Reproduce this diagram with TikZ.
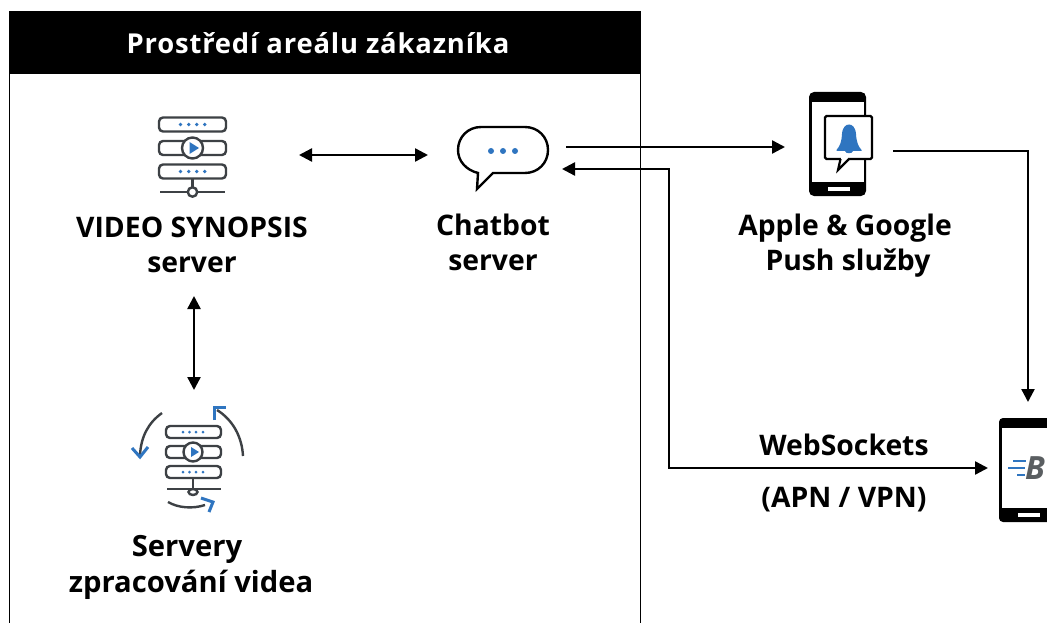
\documentclass[tikz,border=0pt]{standalone}
\usepackage{fontspec}
\setmainfont{Open Sans}
\newfontfamily\hdrfont{Open Sans}[LetterSpace=3]
\usetikzlibrary{arrows.meta}
\definecolor{iconblue}{HTML}{2F75C0}
\definecolor{icongray}{HTML}{3D4145}
\tikzset{
  x=1pt,y=-1pt,
  lbl/.style={align=center,inner sep=0pt,font=\fontsize{28.3}{35}\selectfont\bfseries},
  spot/.style={inner sep=0pt,outer sep=0pt,draw=none},
  link/.style={line width=2.4pt,-{Triangle[length=13pt,width=13pt]}},
  linkb/.style={line width=2.4pt,{Triangle[length=13pt,width=13pt]}-{Triangle[length=13pt,width=13pt]}},
  ic/.style={draw=icongray,line width=2.4pt,fill=white},
  ibl/.style={draw=iconblue,line width=3pt},
  dot/.style={fill=iconblue,draw=none}
}
\begin{document}
\begin{tikzpicture}
\useasboundingbox (0,0) rectangle (1047,623);
\fill[white] (0,0) rectangle (1047,623);
% area frame
\draw[line width=1.3pt] (9.5,623) -- (9.5,12) -- (640.5,12) -- (640.5,623);
\fill[black] (9,12) rectangle (641,74);
\node[inner sep=0pt,text=white,font=\hdrfont\fontsize{27.4}{32}\selectfont\bfseries] (hdr) at (318,43) {Prostředí areálu zákazníka};

% server icon
\node[spot,minimum width=212pt,minimum height=80pt] (srv) at (193,155) {};
\draw[ic,rounded corners=4pt] (159,117.5) rectangle (226,131.5);
\draw[ic,rounded corners=4pt] (159,141) rectangle (226,155);
\draw[ic,rounded corners=4pt] (159,164.5) rectangle (226,178.5);
\foreach \yy in {124.5,171.5} \foreach \xx in {180.5,188.7,196.7,204.7} \fill[dot] (\xx,\yy) circle (1.9pt);
\draw[ic] (192.5,148) circle (10.5pt);
\fill[iconblue] (189.5,142) -- (199,148) -- (189.5,154) -- cycle;
\draw[ic,fill=none] (192.5,179) -- (192.5,187) (160,192) -- (225,192);
\draw[ic] (192.5,192) circle (4.7pt);

% processing icon
\node[spot,minimum width=100pt,minimum height=136pt] (proc) at (194,458) {};
\draw[ic,rounded corners=4pt] (166,426) rectangle (221,438);
\draw[ic,rounded corners=4pt] (166,446) rectangle (221,458);
\draw[ic,rounded corners=4pt] (166,466) rectangle (221,478);
\foreach \yy in {432,472} \foreach \xx in {183,189.5,196,203} \fill[dot] (\xx,\yy) circle (1.5pt);
\draw[ic] (193,452) circle (9.5pt);
\fill[iconblue] (191,447) -- (199,452) -- (191,457) -- cycle;
\draw[ic,fill=none] (193,478) -- (193,489) (167,489) -- (221,489);
\draw[ic] (193,492) ellipse (4.5pt and 3pt);
\draw[ic,fill=none] (162,413) .. controls (148,423) and (141,437) .. (140,455);
\draw[ibl,fill=none] (132,448) -- (140,457) -- (148,447);
\draw[ic,fill=none] (243,456) .. controls (242,437) and (233,420) .. (217,410);
\draw[ibl,fill=none] (214,420) -- (214,407) -- (226,407);
\draw[ic,fill=none] (168,502) .. controls (178,508) and (193,509) .. (205,505);
\draw[ibl,fill=none] (201,498) -- (213,502) -- (209,512);

% chat icon
\node[spot,minimum width=134pt,minimum height=60pt] (chat) at (495,155) {};
\draw[draw=black,line width=2.4pt,fill=white,line join=miter]
  (478,173) -- (477,189) -- (493,173) -- (525,173)
  .. controls (538,173) and (548,163) .. (548,150)
  .. controls (548,137) and (538,127) .. (525,127)
  -- (481,127)
  .. controls (468,127) and (458,137) .. (458,150)
  .. controls (458,161) and (466,170) .. (478,173) -- cycle;
\foreach \xx in {491,503,515} \fill[dot] (\xx,151) circle (3pt);

% phone
\node[spot,minimum width=108pt,minimum height=12pt] (phone) at (839,151) {};
\fill[black,rounded corners=5pt] (809,92) rectangle (866,196);
\fill[white] (812,102) rectangle (864,182);
\fill[white] (828,187) rectangle (850,191);
\draw[black,line width=2.2pt,fill=white,rounded corners=1.5pt] (825,116) rectangle (872,159);
\fill[white] (841,157) rectangle (848,161);
\draw[black,line width=2.2pt,line join=miter,fill=white] (840.5,159) -- (838,170) -- (849,159);
\fill[iconblue] (836.5,150) .. controls (840,146) and (841.5,142) .. (842,134)
  .. controls (842.5,127) and (846,124.5) .. (849,124.5)
  .. controls (852,124.5) and (855.5,127) .. (856,134)
  .. controls (856.5,142) and (858,146) .. (861.5,150)
  -- (861.5,151) -- (853,151) .. controls (852.5,154) and (845.5,154) .. (845,151) -- (836.5,151) -- cycle;

% device
\node[spot,minimum width=80pt,minimum height=116pt] (dev) at (1028,460) {};
\fill[black,rounded corners=4pt] (999,418) rectangle (1060,522);
\fill[white] (1002,428) rectangle (1047,508);
\fill[white] (1018,513) rectangle (1040,517);
\draw[iconblue,line width=2.4pt] (1013,461) -- (1026,461) (1008,468) -- (1025,468) (1017,475) -- (1025,475);
\node[inner sep=0pt,anchor=base west,text=icongray!85,font=\fontsize{32}{32}\selectfont\bfseries\itshape] (blogo) at (1025,479) {B};

% labels
\node[lbl] (srvl) at (192,245) {VIDEO SYNOPSIS\\server};
\node[lbl] (chatl) at (493,242) {Chatbot\\server};
\node[lbl] (phonel) at (845,245.5) {Apple \& Google\\\hspace*{6pt}Push služby};
\node[lbl,font=\fontsize{29.2}{36}\selectfont\bfseries] (procl) at (191,567) {Servery\hspace*{8pt}\\zpracování videa};
\node[lbl] (wsl) at (844,445) {WebSockets};
\node[lbl] (apnl) at (844,500) {(APN / VPN)};

% connectors
\coordinate (vtop) at (194,296);
\coordinate (c1) at (566,147);
\coordinate (c2) at (669,169);
\coordinate (c3) at (669,468);
\draw[linkb] (srv.east) -- (chat.west);
\draw[linkb] (vtop) -- (proc.north);
\draw[link] (c1) -- (c1 -| phone.west);
\draw[link] (phone.east) -- (dev.north |- phone.east) -- (dev.north);
\draw[linkb] (chat.east |- c2) -- (c2) -- (c3) -- (c3 -| dev.west);
\end{tikzpicture}
\end{document}
